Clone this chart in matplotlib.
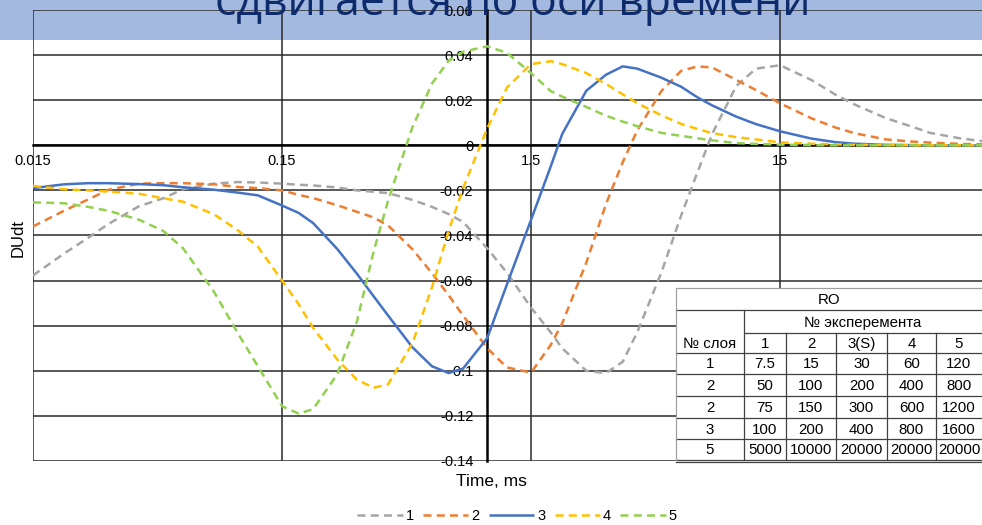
import numpy as np
import matplotlib
matplotlib.use("Agg")
import matplotlib.pyplot as plt
from matplotlib.patches import Rectangle
from matplotlib.ticker import FixedLocator, FixedFormatter, NullLocator

# ---------------- data ----------------
time_ms = [0.015, 0.02, 0.025, 0.03, 0.04, 0.05, 0.06, 0.08, 0.1, 0.12, 0.15, 0.175,
           0.2, 0.25, 0.3, 0.35, 0.4, 0.5, 0.6, 0.7, 0.8, 1.0, 1.2, 1.5, 1.8, 2, 2.5,
           3, 3.5, 4, 5, 6, 7, 8, 10, 12, 15, 20, 25, 30, 40, 50, 60, 80, 100]

s1 = [-0.0577, -0.048, -0.041, -0.035, -0.027, -0.0235, -0.0195, -0.017, -0.0163, -0.0165,
      -0.0170, -0.0175, -0.0178, -0.0187, -0.0200, -0.0206, -0.0212, -0.0242, -0.0273, -0.0305,
      -0.034, -0.0457, -0.0565, -0.072, -0.083, -0.090, -0.100, -0.101, -0.096, -0.083,
      -0.0565, -0.0313, -0.0117, 0.005, 0.0263, 0.034, 0.0355, 0.029, 0.0225, 0.018,
      0.012, 0.0085, 0.0055, 0.003, 0.0017]
s2 = [-0.036, -0.029, -0.024, -0.0198, -0.017, -0.0168, -0.0168, -0.0173, -0.0185, -0.019,
      -0.020, -0.022, -0.0234, -0.0266, -0.0295, -0.032, -0.0356, -0.046, -0.0567, -0.0665,
      -0.0755, -0.090, -0.0985, -0.1008, -0.0885, -0.079, -0.052, -0.026, -0.0075, 0.0065,
      0.024, 0.033, 0.035, 0.0345, 0.029, 0.0245, 0.0186, 0.012, 0.0079, 0.0053,
      0.0026, 0.0017, 0.0012, 0.0006, 0.0004]
s3 = [-0.019, -0.0173, -0.0168, -0.0168, -0.0172, -0.0177, -0.0186, -0.0197, -0.021, -0.0222,
      -0.0267, -0.030, -0.0345, -0.046, -0.057, -0.067, -0.0755, -0.0895, -0.098, -0.101,
      -0.099, -0.0855, -0.0617, -0.033, -0.0093, 0.005, 0.0242, 0.0313, 0.035, 0.034,
      0.030, 0.026, 0.0212, 0.0177, 0.0127, 0.0094, 0.0062, 0.003, 0.0014, 0.0007,
      0.0002, 0.0001, 0.0, 0.0, 0.0]
s4 = [-0.018, -0.0195, -0.020, -0.0205, -0.0215, -0.0235, -0.025, -0.0306, -0.0378, -0.045,
      -0.060, -0.0705, -0.081, -0.095, -0.104, -0.1075, -0.106, -0.088, -0.063, -0.038,
      -0.019, 0.0075, 0.0256, 0.036, 0.0373, 0.036, 0.032, 0.0272, 0.0226, 0.0187,
      0.0133, 0.0095, 0.0072, 0.0054, 0.0036, 0.0026, 0.0013, 0.0007, 0.0004, 0.0002,
      0.0001, 0.0, 0.0, 0.0, 0.0]
s5 = [-0.0253, -0.0257, -0.0273, -0.029, -0.033, -0.038, -0.0456, -0.065, -0.0836, -0.098,
      -0.1157, -0.119, -0.117, -0.1015, -0.078, -0.047, -0.0245, 0.0078, 0.0274, 0.0375,
      0.0415, 0.0439, 0.041, 0.032, 0.024, 0.0216, 0.017, 0.0131, 0.0105, 0.0085,
      0.0055, 0.0042, 0.0031, 0.0022, 0.001, 0.0006, 0.0003, 0.0001, 0.0, 0.0,
      0.0, 0.0, 0.0, 0.0, 0.0]
series = [s1, s2, s3, s4, s5]
series_names = ["1", "2", "3", "4", "5"]

x_ticks = [0.015, 0.15, 1.5, 15, 150]
x_tick_labels = ["0.015", "0.15", "1.5", "15", "150"]
y_ticks = [-0.14, -0.12, -0.1, -0.08, -0.06, -0.04, -0.02, 0, 0.02, 0.04, 0.06]
y_tick_labels = ["-0.14", "-0.12", "-0.1", "-0.08", "-0.06", "-0.04", "-0.02", "0", "0.02", "0.04", "0.06"]

title_text = "сдвигается по оси времени"
x_title = "Time, ms"
y_title = "DUdt"

table_title = "RO"
table_group = "№ эксперемента"
table_rowhead = "№ слоя"
table_cols = ["1", "2", "3(S)", "4", "5"]
table_layers = ["1", "2", "2", "3", "5"]
table_values = [["7.5", "15", "30", "60", "120"],
                ["50", "100", "200", "400", "800"],
                ["75", "150", "300", "600", "1200"],
                ["100", "200", "400", "800", "1600"],
                ["5000", "10000", "20000", "20000", "20000"]]

# ---------------- style ----------------
colors = ["#A5A5A5", "#ED7D31", "#4472C4", "#FFC000", "#92D050"]
styles = ["dash", "dash", "solid", "dash", "dash"]
FONT = ["Liberation Sans", "DejaVu Sans"]
plt.rcParams["font.family"] = FONT

W, H = 982, 525
fig = plt.figure(figsize=(W / 100, H / 100), dpi=100)
fig.patch.set_facecolor("white")

# title band (behind chart)
band = Rectangle((0, 1 - 40 / H), 1, 40 / H, transform=fig.transFigure,
                 facecolor="#A3B9E0", edgecolor="none", zorder=-5)
fig.add_artist(band)

left, right, top, bottom = 33, 982, 10, 461
ax = fig.add_axes([left / W, 1 - bottom / H, (right - left) / W, (bottom - top) / H])
ax.set_facecolor("none")
ax.set_xscale("log")
ax.set_xlim(0.015, 97.0)
ax.set_ylim(-0.14, 0.06)

for s, c, st, name in zip(series, colors, styles, series_names):
    ln, = ax.plot(time_ms, s, color=c, lw=1.8, label=name, zorder=3,
                  solid_capstyle="butt", dash_capstyle="butt", solid_joinstyle="round")
    if st == "dash":
        ln.set_dashes((3.2, 2.1))

ax.xaxis.set_major_locator(FixedLocator(x_ticks))
ax.xaxis.set_major_formatter(FixedFormatter(x_tick_labels))
ax.xaxis.set_minor_locator(NullLocator())
ax.yaxis.set_major_locator(FixedLocator(y_ticks))
ax.yaxis.set_major_formatter(FixedFormatter(y_tick_labels))
ax.yaxis.set_minor_locator(NullLocator())

ax.grid(True, which="major", color="#2a2a2a", lw=1.1)
ax.set_axisbelow(True)
ax.spines["top"].set_visible(False)
ax.spines["right"].set_visible(False)
ax.spines["left"].set_position(("data", 1.0))
ax.spines["bottom"].set_position(("data", 0.0))
for sp in ("left", "bottom"):
    ax.spines[sp].set_color("black")
    ax.spines[sp].set_linewidth(1.8)
    ax.spines[sp].set_zorder(2)
ax.tick_params(axis="both", length=0, labelsize=10.5, labelcolor="black")
ax.tick_params(axis="x", pad=6)
ax.tick_params(axis="y", pad=10)

# axis titles
fig.text(491 / W, 1 - 481 / H, x_title, ha="center", va="center", fontsize=12.5)
fig.text(18 / W, 1 - 238 / H, y_title, ha="center", va="center", fontsize=12, rotation=90)

# legend
handles, labels = ax.get_legend_handles_labels()
fig.legend(handles, labels, loc="center", bbox_to_anchor=(517 / W, 1 - 516 / H), ncol=5,
           frameon=False, fontsize=10.5, handlelength=3.1, handletextpad=0.2,
           columnspacing=0.65)

# ---------------- table overlay ----------------
tax = fig.add_axes([0, 0, 1, 1], zorder=6)
tax.set_xlim(0, W)
tax.set_ylim(H, 0)
tax.axis("off")
tl, tr, tt, tb = 676, 982, 288, 461
tax.add_patch(Rectangle((tl, tt), tr - tl, tb - tt, facecolor="white", edgecolor="none"))
row_y = [288, 310, 333, 353, 374, 396, 418, 439, 460]
col_x = [676, 744, 786, 836, 887, 936, 982]
lc = "#404040"
lw = 0.9
tax.plot([tl, tr], [row_y[0], row_y[0]], color="#a0a0a0", lw=lw)
tax.plot([tl, tr], [row_y[1], row_y[1]], color=lc, lw=lw)
tax.plot([col_x[1], tr], [row_y[2], row_y[2]], color=lc, lw=lw)
for y in row_y[3:]:
    tax.plot([tl, tr], [y, y], color=lc, lw=lw)
tax.plot([tl, tr], [row_y[-1] + 1.5, row_y[-1] + 1.5], color=lc, lw=lw)
tax.plot([tl, tl], [row_y[0], row_y[-1]], color="#a0a0a0", lw=lw)
tax.plot([col_x[1], col_x[1]], [row_y[1], row_y[-1]], color=lc, lw=lw)
for x in col_x[2:-1]:
    tax.plot([x, x], [row_y[2], row_y[-1]], color=lc, lw=lw)

tfs = 10.8
tax.text((tl + tr) / 2, (row_y[0] + row_y[1]) / 2 + 1, table_title, ha="center", va="center", fontsize=tfs)
tax.text((col_x[1] + tr) / 2, (row_y[1] + row_y[2]) / 2 + 1, table_group, ha="center", va="center", fontsize=tfs)
tax.text((col_x[0] + col_x[1]) / 2, (row_y[2] + row_y[3]) / 2 + 1, table_rowhead, ha="center", va="center", fontsize=tfs)
for j, c in enumerate(table_cols):
    tax.text((col_x[j + 1] + col_x[j + 2]) / 2, (row_y[2] + row_y[3]) / 2 + 1, c,
             ha="center", va="center", fontsize=tfs)
for i, (lay, vals) in enumerate(zip(table_layers, table_values)):
    yc = (row_y[3 + i] + row_y[4 + i]) / 2 + 1
    tax.text((col_x[0] + col_x[1]) / 2, yc, lay, ha="center", va="center", fontsize=tfs)
    for j, v in enumerate(vals):
        tax.text((col_x[j + 1] + col_x[j + 2]) / 2, yc, v, ha="center", va="center", fontsize=tfs)

# ---------------- title over band ----------------
ttl = fig.text(215 / W, 1 - 15 / H, title_text, ha="left", va="baseline", fontsize=36,
               color="#0E2B6B", family=["Open Sans", "DejaVu Sans"], zorder=20)
fig.canvas.draw()
bb = ttl.get_window_extent(fig.canvas.get_renderer())
ttl.set_fontsize(36 * 595 / bb.width)

fig.savefig("out.png", dpi=100, facecolor="white")
